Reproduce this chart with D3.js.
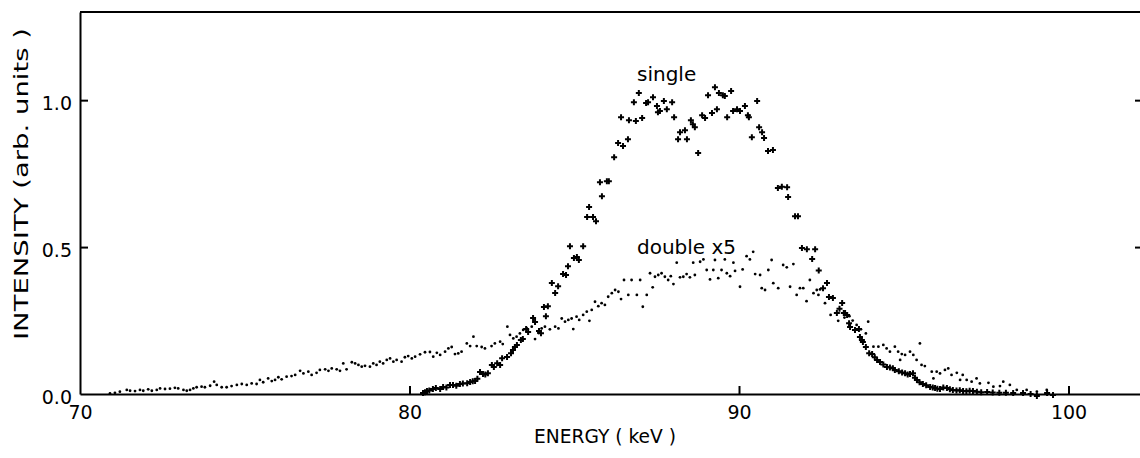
<!DOCTYPE html>
<html>
<head>
<meta charset="utf-8">
<script src="https://cdn.jsdelivr.net/npm/d3@7"></script>
<style>
  body { margin: 0; background: #fff; }
  svg { display: block; }
  text { font-family: "DejaVu Sans", sans-serif; fill: #000; }
  .axis path, .axis line { stroke: #000; stroke-width: 2; }
  .axis text { font-size: 19px; }
</style>
</head>
<body>
<svg id="chart"></svg>
<script>
// energy (keV), intensity (arb. units)
let singleData = [
  [80.41,0.003],[80.47,0.006],[80.53,0.010],[80.60,0.012],[80.71,0.017],[80.80,0.020],[80.93,0.017],[81.02,0.024],
  [81.12,0.022],[81.23,0.031],[81.32,0.031],[81.42,0.028],[81.53,0.034],[81.62,0.036],[81.75,0.037],[81.84,0.041],
  [81.92,0.043],[81.99,0.044],[82.06,0.052],[82.14,0.075],[82.23,0.068],[82.30,0.066],[82.38,0.071],[82.50,0.099],
  [82.56,0.092],[82.66,0.105],[82.75,0.099],[82.81,0.122],[82.96,0.126],[83.08,0.139],[83.14,0.150],[83.20,0.160],
  [83.26,0.167],[83.38,0.184],[83.44,0.187],[83.54,0.221],[83.60,0.211],[83.75,0.259],[83.81,0.245],[83.93,0.214],
  [83.99,0.207],[84.08,0.296],[84.14,0.265],[84.20,0.299],[84.32,0.378],[84.42,0.344],[84.51,0.367],[84.66,0.408],
  [84.75,0.405],[84.81,0.435],[84.87,0.503],[84.99,0.463],[85.08,0.466],[85.14,0.456],[85.27,0.503],[85.39,0.602],
  [85.45,0.636],[85.57,0.602],[85.66,0.588],[85.78,0.721],[85.84,0.673],[85.99,0.724],[86.05,0.724],[86.21,0.806],
  [86.33,0.854],[86.42,0.942],[86.48,0.844],[86.63,0.867],[86.66,0.932],[86.81,0.993],[86.87,0.929],[86.96,1.024],
  [87.06,0.939],[87.18,0.990],[87.24,0.993],[87.39,1.010],[87.51,0.980],[87.54,0.959],[87.60,0.963],[87.72,0.997],
  [87.81,0.969],[87.97,0.993],[88.03,0.942],[88.15,0.867],[88.21,0.891],[88.36,0.898],[88.42,0.867],[88.54,0.932],
  [88.60,0.918],[88.66,0.908],[88.76,0.820],[88.88,0.949],[88.97,0.939],[89.06,1.017],[89.18,0.956],[89.27,1.044],
  [89.33,0.969],[89.39,1.024],[89.51,1.017],[89.57,1.014],[89.64,0.942],[89.76,1.031],[89.82,0.963],[89.94,0.969],
  [90.03,0.963],[90.18,0.980],[90.27,0.949],[90.30,0.942],[90.39,0.874],[90.55,0.997],[90.61,0.908],[90.70,0.891],
  [90.76,0.871],[90.88,0.827],[91.03,0.830],[91.18,0.701],[91.30,0.705],[91.46,0.704],[91.49,0.670],[91.70,0.605],
  [91.79,0.605],[91.91,0.497],[92.06,0.493],[92.22,0.459],[92.31,0.493],[92.42,0.420],[92.55,0.360],[92.67,0.378],
  [92.73,0.330],[92.85,0.327],[92.97,0.276],[93.05,0.290],[93.13,0.310],[93.18,0.276],[93.22,0.276],[93.28,0.269],
  [93.34,0.241],[93.37,0.228],[93.52,0.218],[93.64,0.221],[93.67,0.194],[93.73,0.184],[93.76,0.177],[93.85,0.160],
  [93.95,0.139],[94.04,0.136],[94.12,0.125],[94.19,0.116],[94.28,0.109],[94.38,0.100],[94.49,0.092],[94.58,0.090],
  [94.67,0.088],[94.73,0.082],[94.85,0.077],[94.95,0.073],[95.04,0.071],[95.12,0.066],[95.19,0.068],[95.28,0.071],
  [95.34,0.055],[95.40,0.048],[95.48,0.040],[95.58,0.034],[95.68,0.030],[95.80,0.024],[95.88,0.022],[95.95,0.020],
  [96.02,0.018],[96.10,0.017],[96.20,0.022],[96.31,0.020],[96.40,0.016],[96.49,0.014],[96.60,0.012],[96.70,0.013],
  [96.80,0.010],[96.90,0.009],[97.00,0.011],[97.10,0.010],[97.22,0.008],[97.35,0.006],[97.53,0.007],[97.70,0.005],
  [97.90,0.004],[98.10,0.004],[98.32,0.003],[98.62,0.003],[98.85,0.000],[99.04,-0.007],[99.35,0.003],[99.53,-0.003]
];

let doubleData = [
  [70.91,0.002],[71.06,0.004],[71.21,0.008],[71.42,0.014],[71.52,0.011],[71.67,0.010],[71.82,0.014],[71.92,0.011],
  [72.07,0.016],[72.18,0.011],[72.33,0.014],[72.43,0.019],[72.58,0.017],[72.73,0.018],[72.88,0.021],[72.98,0.019],
  [73.14,0.014],[73.24,0.011],[73.34,0.014],[73.44,0.019],[73.54,0.023],[73.69,0.025],[73.79,0.023],[73.95,0.028],
  [74.07,0.042],[74.15,0.031],[74.30,0.023],[74.45,0.023],[74.60,0.027],[74.76,0.031],[74.91,0.034],[75.06,0.031],
  [75.21,0.036],[75.36,0.034],[75.46,0.048],[75.56,0.040],[75.71,0.053],[75.82,0.044],[75.92,0.048],[76.02,0.057],
  [76.12,0.050],[76.27,0.059],[76.42,0.061],[76.53,0.065],[76.68,0.079],[76.78,0.070],[76.93,0.076],[77.03,0.065],
  [77.18,0.072],[77.28,0.082],[77.44,0.084],[77.54,0.079],[77.64,0.087],[77.79,0.084],[77.89,0.079],[77.99,0.104],
  [78.09,0.084],[78.25,0.108],[78.35,0.104],[78.45,0.099],[78.55,0.093],[78.65,0.096],[78.80,0.093],[78.90,0.104],
  [79.00,0.099],[79.10,0.110],[79.20,0.104],[79.31,0.116],[79.41,0.121],[79.51,0.110],[79.61,0.116],[79.76,0.110],
  [79.86,0.125],[79.96,0.129],[80.07,0.121],[80.17,0.127],[80.32,0.135],[80.47,0.142],[80.62,0.143],[80.72,0.127],
  [80.83,0.140],[80.93,0.133],[81.08,0.144],[81.18,0.155],[81.28,0.160],[81.38,0.136],[81.48,0.138],[81.58,0.144],
  [81.74,0.172],[81.84,0.163],[81.94,0.195],[82.04,0.163],[82.19,0.160],[82.29,0.155],[82.49,0.163],[82.59,0.172],
  [82.75,0.178],[82.83,0.170],[82.97,0.229],[83.05,0.201],[83.15,0.189],[83.25,0.195],[83.35,0.206],[83.45,0.218],
  [83.56,0.223],[83.71,0.229],[83.81,0.187],[83.91,0.208],[84.01,0.223],[84.11,0.229],[84.26,0.220],[84.42,0.229],
  [84.52,0.223],[84.62,0.257],[84.72,0.246],[84.82,0.252],[84.92,0.257],[84.97,0.221],[85.07,0.263],[85.15,0.252],
  [85.27,0.269],[85.38,0.280],[85.46,0.249],[85.53,0.286],[85.63,0.314],[85.73,0.299],[85.83,0.309],[85.93,0.303],
  [86.03,0.331],[86.14,0.343],[86.24,0.354],[86.34,0.348],[86.42,0.323],[86.51,0.388],[86.64,0.337],[86.74,0.388],
  [86.90,0.337],[87.00,0.388],[87.08,0.297],[87.20,0.337],[87.30,0.411],[87.38,0.363],[87.45,0.399],[87.55,0.405],
  [87.65,0.411],[87.75,0.399],[87.85,0.388],[87.93,0.401],[88.01,0.374],[88.11,0.447],[88.21,0.397],[88.31,0.399],
  [88.41,0.408],[88.51,0.397],[88.61,0.447],[88.66,0.405],[88.82,0.450],[88.92,0.458],[89.02,0.422],[89.12,0.390],
  [89.22,0.422],[89.27,0.456],[89.37,0.394],[89.47,0.422],[89.57,0.458],[89.63,0.411],[89.73,0.401],[89.83,0.447],
  [89.88,0.419],[90.03,0.365],[90.11,0.424],[90.23,0.469],[90.33,0.458],[90.43,0.484],[90.49,0.408],[90.64,0.405],
  [90.69,0.360],[90.79,0.354],[90.89,0.422],[90.99,0.456],[91.04,0.377],[91.19,0.360],[91.34,0.439],[91.45,0.431],
  [91.55,0.365],[91.65,0.442],[91.75,0.337],[91.85,0.360],[91.95,0.360],[92.05,0.316],[92.15,0.388],[92.26,0.343],
  [92.36,0.354],[92.41,0.337],[92.46,0.356],[92.61,0.309],[92.78,0.269],[93.01,0.249],[93.20,0.260],[93.35,0.265],
  [93.45,0.250],[93.57,0.235],[93.70,0.220],[93.85,0.206],[93.92,0.246],[94.08,0.161],[94.23,0.161],[94.38,0.167],
  [94.48,0.155],[94.58,0.144],[94.73,0.161],[94.83,0.144],[94.89,0.116],[94.94,0.136],[95.04,0.133],[95.19,0.144],
  [95.29,0.133],[95.39,0.116],[95.49,0.172],[95.54,0.099],[95.64,0.095],[95.85,0.076],[95.90,0.053],[96.00,0.076],
  [96.10,0.070],[96.25,0.082],[96.35,0.087],[96.45,0.065],[96.61,0.072],[96.71,0.048],[96.79,0.065],[96.91,0.048],
  [97.06,0.042],[97.21,0.053],[97.31,0.036],[97.57,0.038],[97.72,0.025],[97.92,0.027],[98.02,0.042],[98.22,0.031],
  [98.43,0.014],[98.73,0.014],[99.04,0.008],[99.34,0.014]
];

let xTicks = [70, 80, 90, 100];
let yTicks = [0, 0.5, 1.0];

let width = 1140;
let height = 458;
let margin = {top: 12, right: -1, bottom: 64, left: 80};

let svg = d3.select("#chart")
    .attr("width", width)
    .attr("height", height);

let x = d3.scaleLinear()
    .domain([70, 102.2])
    .range([margin.left, width - margin.right]);

let y = d3.scaleLinear()
    .domain([0, 1.3])
    .range([height - margin.bottom, margin.top]);

// frame: top edge
svg.append("line")
    .attr("x1", x(70)).attr("x2", x(102.2))
    .attr("y1", y(1.3)).attr("y2", y(1.3))
    .attr("stroke", "#000").attr("stroke-width", 2);

// bottom axis, ticks pointing in
svg.append("g")
    .attr("class", "axis")
    .attr("transform", `translate(0,${y(0)})`)
    .call(d3.axisBottom(x).tickValues(xTicks).tickSize(-8).tickPadding(12).tickSizeOuter(0))
    .call(g => g.selectAll(".tick").filter(d => d === 70).select("line").remove());

// left axis
svg.append("g")
    .attr("class", "axis")
    .attr("transform", `translate(${x(70)},0)`)
    .call(d3.axisLeft(y).tickValues(yTicks).tickFormat(d3.format(".1f")).tickSize(-8).tickPadding(8).tickSizeOuter(0))
    .call(g => g.selectAll(".tick").filter(d => d === 0).select("line").remove())
    .call(g => g.selectAll(".tick text").attr("dy", "0.5em"));

// right axis (off the edge), only ticks visible
svg.append("g")
    .attr("class", "axis")
    .attr("transform", `translate(${x(102.2)},0)`)
    .call(d3.axisRight(y).tickValues([0.5, 1.0]).tickSize(-6).tickFormat("").tickSizeOuter(0));

// double x5 : small dots
svg.append("g")
    .selectAll("circle")
    .data(doubleData)
    .enter()
    .append("circle")
        .attr("cx", d => x(d[0]))
        .attr("cy", d => y(d[1]))
        .attr("r", 1.4)
        .attr("fill", "#000");

// single : small crosses
let cross = d3.symbol().type(d3.symbolCross).size(20);
svg.append("g")
    .selectAll("path")
    .data(singleData)
    .enter()
    .append("path")
        .attr("transform", d => `translate(${x(d[0])},${y(d[1])})`)
        .attr("d", cross)
        .attr("fill", "#000");

// labels
svg.append("text")
    .attr("x", 637).attr("y", 81)
    .style("font-size", "20px")
    .text("single");

svg.append("text")
    .attr("x", 637).attr("y", 254)
    .style("font-size", "20px")
    .text("double x5");

svg.append("text")
    .attr("x", 534).attr("y", 443)
    .attr("textLength", 142)
    .attr("lengthAdjust", "spacingAndGlyphs")
    .style("font-size", "20px")
    .text("ENERGY ( keV )");

svg.append("text")
    .attr("transform", `translate(28,340) rotate(-90)`)
    .attr("textLength", 312)
    .attr("lengthAdjust", "spacingAndGlyphs")
    .style("font-size", "20px")
    .text("INTENSITY (arb. units )");
</script>
</body>
</html>
